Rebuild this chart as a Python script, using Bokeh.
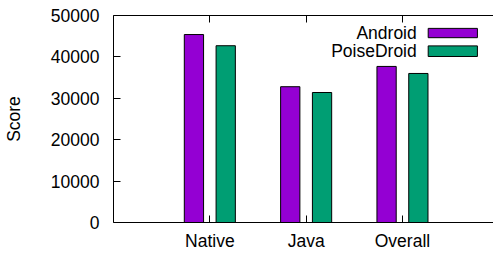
from bokeh.plotting import figure
from bokeh.models import (ColumnDataSource, FixedTicker, Label, LinearAxis,
                          BoxAnnotation, Range1d, PrintfTickFormatter)
from bokeh.transform import dodge
from bokeh.embed import file_html
from bokeh.resources import INLINE

categories = ["Native", "Java", "Overall"]
android = [45400, 32800, 37700]
poisedroid = [42700, 31400, 36000]
y_ticks = [0, 10000, 20000, 30000, 40000, 50000]
y_max = 50000
series_names = ["Android", "PoiseDroid"]
series_colors = ["#9400D3", "#009E73"]

FONT = "Liberation Sans"
FS = "17.5px"

xs = list(range(1, len(categories) + 1))
src = ColumnDataSource(dict(x=xs, android=android, poisedroid=poisedroid))

p = figure(width=493, height=253, output_backend="svg", toolbar_location=None,
           x_range=Range1d(0, 3.945), y_range=Range1d(0, y_max),
           min_border_left=107, min_border_right=0, min_border_top=15,
           min_border_bottom=29)
p.outline_line_color = None
p.xgrid.visible = False
p.ygrid.visible = False
p.background_fill_color = "white"
p.border_fill_color = "white"

p.vbar(x=dodge("x", -0.165, range=p.x_range), top="android", width=0.2, source=src,
       fill_color=series_colors[0], line_color="black", line_width=1)
p.vbar(x=dodge("x", 0.165, range=p.x_range), top="poisedroid", width=0.2, source=src,
       fill_color=series_colors[1], line_color="black", line_width=1)

overrides = {x: c for x, c in zip(xs, categories)}

xb = p.xaxis[0]
xb.ticker = FixedTicker(ticks=xs)
xb.major_label_overrides = overrides
xb.major_tick_in = 7
xb.major_tick_out = 0
xb.minor_tick_line_color = None
xb.major_label_text_font = FONT
xb.major_label_text_font_size = FS
xb.major_label_text_color = "black"
xb.major_label_standoff = 8
xb.axis_line_color = "black"
xb.major_tick_line_color = "black"

# top border with mirrored inward ticks (gnuplot style)
xt = LinearAxis(ticker=FixedTicker(ticks=xs),
                major_label_overrides={x: "" for x in xs})
xt.major_tick_in = 7
xt.major_tick_out = 0
xt.minor_tick_line_color = None
xt.major_label_standoff = 5
xt.axis_line_color = "black"
xt.major_tick_line_color = "black"
p.add_layout(xt, "above")

yl = p.yaxis[0]
yl.ticker = FixedTicker(ticks=y_ticks)
yl.formatter = PrintfTickFormatter(format="%d")
yl.major_tick_in = 7
yl.major_tick_out = 0
yl.minor_tick_line_color = None
yl.major_label_text_font = FONT
yl.major_label_text_font_size = FS
yl.major_label_text_color = "black"
yl.major_label_standoff = 14
yl.axis_label = "Score"
yl.axis_label_text_font = FONT
yl.axis_label_text_font_size = FS
yl.axis_label_text_font_style = "normal"
yl.axis_label_text_color = "black"
yl.axis_label_standoff = 24
yl.axis_line_color = "black"
yl.major_tick_line_color = "black"

# gnuplot-style key: text right-aligned, swatch on the right
key_text_x = 3.148
key_box_left, key_box_right = 3.267, 3.778
key_rows = [(45770, 46890, 44640), (41460, 42660, 40100)]
for name, color, (ty, btop, bbot) in zip(series_names, series_colors, key_rows):
    p.add_layout(Label(x=key_text_x, y=ty, text=name, text_align="right",
                       text_baseline="middle", text_font=FONT, text_font_size=FS,
                       text_color="black"))
    p.add_layout(BoxAnnotation(left=key_box_left, right=key_box_right, top=btop,
                               bottom=bbot, fill_color=color, fill_alpha=1,
                               line_color="black", line_width=1, line_alpha=1))

open("out.html", "w").write(file_html(p, INLINE))
